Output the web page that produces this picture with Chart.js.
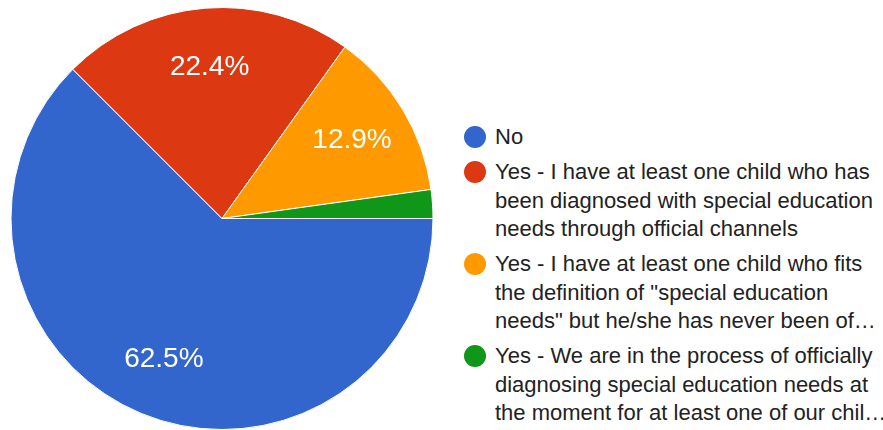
<!DOCTYPE html>
<html>
<head>
<meta charset="utf-8">
<script src="https://cdn.jsdelivr.net/npm/chart.js@4"></script>
<style>
  html, body { margin: 0; padding: 0; background: #fff; }
  #wrap { position: relative; width: 883px; height: 430px; overflow: hidden; }
  #chartBox { position: absolute; left: 0; top: 0; width: 445px; height: 430px; }
  #legend { position: absolute; left: 464px; top: 123px; font-family: "Liberation Sans", Arial, sans-serif;
            font-size: 22px; color: #222; }
  .item { display: flex; align-items: flex-start; margin-bottom: 6.5px; }
  .dot { width: 22px; height: 22px; border-radius: 50%; flex: none; margin-top: 3px; margin-right: 9px; }
  .txt { line-height: 28.5px; white-space: nowrap; }
</style>
</head>
<body>
<div id="wrap">
  <div id="chartBox"><canvas id="pieChart" width="445" height="430"></canvas></div>
  <div id="legend"></div>
</div>
<script>
// --- DONNEES ---
const categories = [
  'No',
  'Yes - I have at least one child who has been diagnosed with special education needs through official channels',
  'Yes - I have at least one child who fits the definition of "special education needs" but he/she has never been of…',
  'Yes - We are in the process of officially diagnosing special education needs at the moment for at least one of our chil…'
];
// lignes telles qu'affichees dans la legende
const legendLines = [
  ['No'],
  ['Yes - I have at least one child who has', 'been diagnosed with special education', 'needs through official channels'],
  ['Yes - I have at least one child who fits', 'the definition of "special education', 'needs" but he/she has never been of…'],
  ['Yes - We are in the process of officially', 'diagnosing special education needs at', 'the moment for at least one of our chil…']
];
const shares = [62.5, 22.4, 12.9, 2.2];
const colors = ['#3366cc', '#dc3912', '#ff9900', '#109618'];

// 1. LEGENDE HTML
const legendDiv = document.getElementById('legend');
legendDiv.innerHTML = legendLines.map((lines, i) => `
  <div class="item">
    <span class="dot" style="background:${colors[i]}"></span>
    <span class="txt">${lines.map(l => l.replace(/&/g, '&amp;').replace(/</g, '&lt;')).join('<br>')}</span>
  </div>`).join('');

// 2. ETIQUETTES DE POURCENTAGE
const sliceLabels = {
  id: 'sliceLabels',
  afterDatasetsDraw(chart) {
    const ctx = chart.ctx;
    const meta = chart.getDatasetMeta(0);
    ctx.save();
    ctx.fillStyle = '#fff';
    ctx.font = '28px "Liberation Sans", Arial, sans-serif';
    ctx.textAlign = 'center';
    ctx.textBaseline = 'middle';
    meta.data.forEach((arc, i) => {
      if (shares[i] < 5) return;
      const mid = (arc.startAngle + arc.endAngle) / 2;
      const r = arc.outerRadius * 0.72;
      ctx.fillText(shares[i].toFixed(1) + '%', arc.x + Math.cos(mid) * r, arc.y + Math.sin(mid) * r);
    });
    ctx.restore();
  }
};

// 3. GRAPHIQUE
new Chart(document.getElementById('pieChart').getContext('2d'), {
  type: 'pie',
  data: {
    labels: categories,
    datasets: [{
      data: shares,
      backgroundColor: colors,
      borderColor: '#fff',
      borderWidth: 1
    }]
  },
  options: {
    responsive: false,
    animation: false,
    rotation: 90,
    layout: { padding: { left: 10, right: 11, top: 7, bottom: 0 } },
    plugins: { legend: { display: false }, tooltip: { enabled: false } }
  },
  plugins: [sliceLabels]
});
</script>
</body>
</html>
